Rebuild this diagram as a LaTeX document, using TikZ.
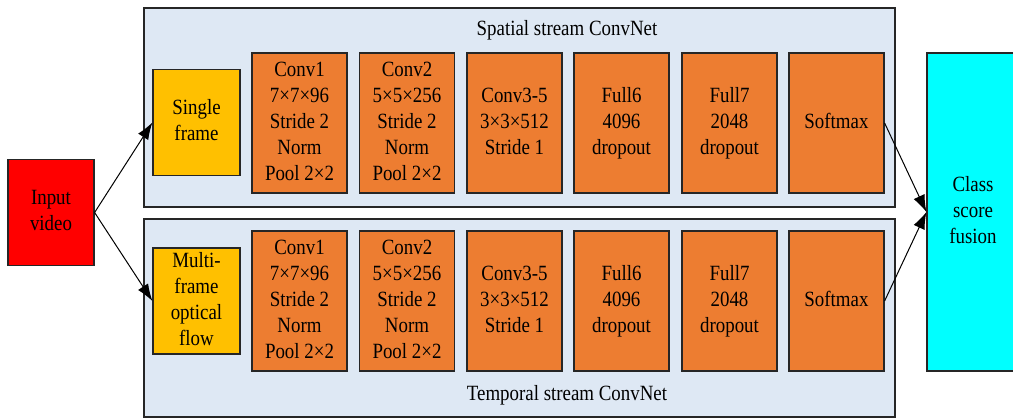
\documentclass[tikz,border=0pt]{standalone}
\usepackage{fontspec}
\usepackage{graphicx}
\setmainfont{Liberation Serif}
\newfontfamily\diagfont{Liberation Serif}
\usetikzlibrary{arrows.meta}
\definecolor{redbox}{HTML}{FF0000}
\definecolor{orangebox}{HTML}{ED7D31}
\definecolor{goldbox}{HTML}{FFC000}
\definecolor{clusterfill}{HTML}{DEE8F4}
\definecolor{fusionfill}{HTML}{00FFFF}
\definecolor{edge}{HTML}{262626}
% multi-line label, set slightly tall
\newcommand\lbl[1]{\scalebox{1}[1.15]{\begin{tabular}{@{}c@{}}#1\end{tabular}}}
\tikzset{
  x=1pt, y=-1pt,
  every node/.style={font=\diagfont\fontsize{18.9}{22.6}\selectfont, align=center, inner sep=0pt},
  block/.style={draw=edge, line width=1.2pt, minimum width=#1},
  layer/.style={block=95, fill=orangebox, minimum height=140},
  inputbox/.style={block=87, fill=goldbox, minimum height=106},
  cluster/.style={draw=edge, line width=1.2pt, fill=clusterfill},
  link/.style={line width=1pt, -{Latex[length=17pt,width=12pt]}}
}
\begin{document}
\begin{tikzpicture}
\useasboundingbox (0,0) rectangle (1013,418);

% stream backgrounds
\node[cluster, minimum width=751, minimum height=199] (spatial) at (519.5,107.5) {};
\node[cluster, minimum width=751, minimum height=198] (temporal) at (519.5,318) {};
\node (spatialtitle) at (567,30) {\lbl{Spatial stream ConvNet}};
\node (temporaltitle) at (567,395) {\lbl{Temporal stream ConvNet}};

% input and output
\node[block=86, fill=redbox, minimum height=106] (in) at (51,212.5) {\lbl{Input\\video}};
\node[block=92, fill=fusionfill, minimum height=318] (fusion) at (973,212) {\lbl{Class\\score\\fusion}};

% spatial stream
\node[inputbox] (s0) at (196.5,122.5) {\lbl{Single\\frame}};
\node[layer] (s1) at (299.5,123) {\lbl{Conv1\\7\texttimes7\texttimes96\\Stride 2\\Norm\\Pool 2\texttimes2}};
\node[layer] (s2) at (407,123) {\lbl{Conv2\\5\texttimes5\texttimes256\\Stride 2\\Norm\\Pool 2\texttimes2}};
\node[layer] (s3) at (514.5,123) {\lbl{Conv3-5\\3\texttimes3\texttimes512\\Stride 1}};
\node[layer] (s4) at (621.5,123) {\lbl{Full6\\4096\\dropout}};
\node[layer] (s5) at (729.5,123) {\lbl{Full7\\2048\\dropout}};
\node[layer] (s6) at (836.5,123) {\lbl{Softmax}};

% temporal stream
\node[inputbox] (t0) at (196.5,301) {\lbl{Multi-\\frame\\optical\\flow}};
\node[layer] (t1) at (299.5,301) {\lbl{Conv1\\7\texttimes7\texttimes96\\Stride 2\\Norm\\Pool 2\texttimes2}};
\node[layer] (t2) at (407,301) {\lbl{Conv2\\5\texttimes5\texttimes256\\Stride 2\\Norm\\Pool 2\texttimes2}};
\node[layer] (t3) at (514.5,301) {\lbl{Conv3-5\\3\texttimes3\texttimes512\\Stride 1}};
\node[layer] (t4) at (621.5,301) {\lbl{Full6\\4096\\dropout}};
\node[layer] (t5) at (729.5,301) {\lbl{Full7\\2048\\dropout}};
\node[layer] (t6) at (836.5,301) {\lbl{Softmax}};

% connectors
\draw[link] (in.east) -- (s0.west);
\draw[link] (in.east) -- (t0.west);
\draw[link] (s6.east) -- (fusion.west);
\draw[link] (t6.east) -- (fusion.west);
\end{tikzpicture}
\end{document}
